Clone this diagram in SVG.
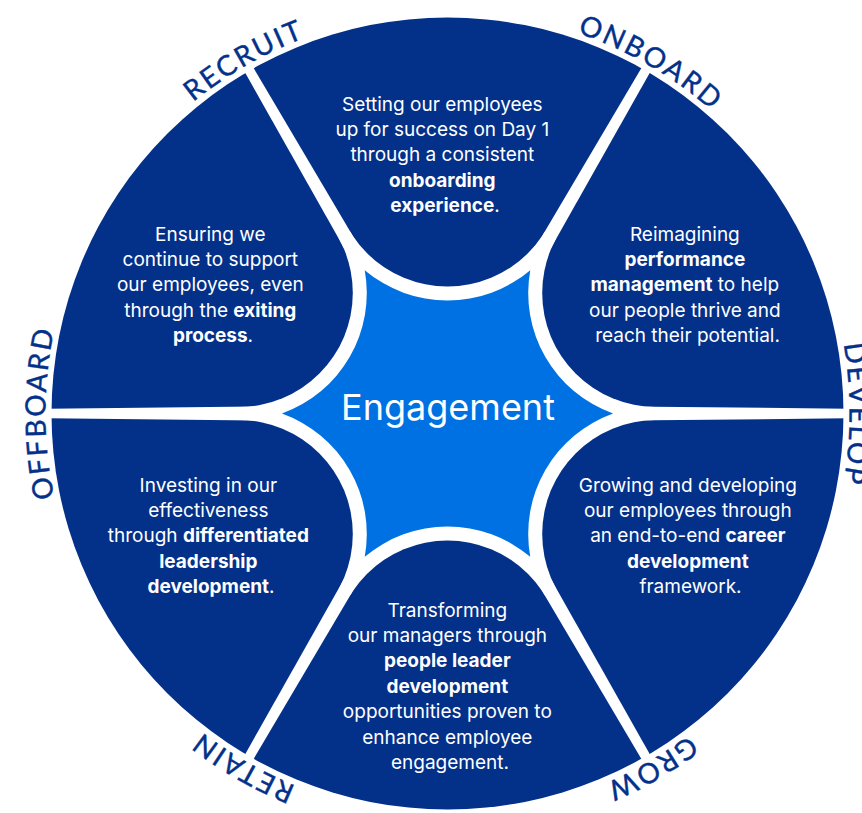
<svg xmlns="http://www.w3.org/2000/svg" xmlns:xlink="http://www.w3.org/1999/xlink" width="862" height="813" viewBox="0 0 862 813">
  <style>
    .navy { fill: #03318A; }
    .body { font-family: Inter, "Liberation Sans", sans-serif; font-size: 19px; fill: #FFFFFF; text-anchor: middle; }
    .b { font-weight: 700; }
    .label { font-family: Lato, "Open Sans", sans-serif; font-size: 28px; fill: #03318A; stroke: #03318A; stroke-width: 0.4px; letter-spacing: 2.3px; }
    .center { font-family: Inter, "Liberation Sans", sans-serif; font-size: 36px; fill: #FFFFFF; text-anchor: middle; }
  </style>
  <defs>
    <polygon id="divider" points="150,-7.3 400,-4.8 400,4.8 150,7.3" fill="#FFFFFF"/>
    <path id="ring" d="M 447.5 815.5 A 402 402 0 0 1 45.5 413.5 A 402 402 0 0 1 447.5 11.5 A 402 402 0 0 1 849.5 413.5 A 402 402 0 0 1 447.5 815.5" fill="none"/>
  </defs>
  <rect width="862" height="813" fill="#FFFFFF"/>

  <g id="wheel">
    <circle class="navy" cx="447.5" cy="413.5" r="396"/>
    <polygon fill="#FFFFFF" points="657.5,413.5 552.5,231.63 342.5,231.63 237.5,413.5 342.5,595.37 552.5,595.37"/>
    <circle class="navy" cx="447.5" cy="172.5" r="114"/>
    <circle class="navy" cx="656.21" cy="293" r="114"/>
    <circle class="navy" cx="656.21" cy="534" r="114"/>
    <circle class="navy" cx="447.5" cy="654.5" r="114"/>
    <circle class="navy" cx="238.79" cy="534" r="114"/>
    <circle class="navy" cx="238.79" cy="293" r="114"/>
  </g>

  <g id="connectors">
    <use xlink:href="#divider" transform="translate(447.5 413.5) rotate(0)"/>
    <use xlink:href="#divider" transform="translate(447.5 413.5) rotate(-60)"/>
    <use xlink:href="#divider" transform="translate(447.5 413.5) rotate(-120)"/>
    <use xlink:href="#divider" transform="translate(447.5 413.5) rotate(180)"/>
    <use xlink:href="#divider" transform="translate(447.5 413.5) rotate(120)"/>
    <use xlink:href="#divider" transform="translate(447.5 413.5) rotate(60)"/>
  </g>

  <g id="engagement">
    <path fill="#0071E3" d="M 613.04 413.5 A 128 128 0 0 1 530.27 270.14 A 128 128 0 0 1 364.73 270.14 A 128 128 0 0 1 281.96 413.5 A 128 128 0 0 1 364.73 556.86 A 128 128 0 0 1 530.27 556.86 A 128 128 0 0 1 613.04 413.5 Z"/>
    <text class="center" x="448" y="419.5">Engagement</text>
  </g>

  <g id="onboard">
    <text class="body">
      <tspan x="445" y="111">Setting our employees</tspan>
      <tspan x="445" y="136.2">up for success on Day 1</tspan>
      <tspan x="445" y="161.4">through a consistent</tspan>
      <tspan x="445" y="186.6" class="b">onboarding</tspan>
      <tspan x="445" y="211.8"><tspan class="b">experience</tspan>.</tspan>
    </text>
    <text class="label"><textPath xlink:href="#ring" startOffset="1473.4" text-anchor="middle">ONBOARD</textPath></text>
  </g>

  <g id="develop">
    <text class="body">
      <tspan x="687.5" y="240.5">Reimagining</tspan>
      <tspan x="687.5" y="265.9" class="b">performance</tspan>
      <tspan x="687.5" y="291.3"><tspan class="b">management</tspan> to help</tspan>
      <tspan x="687.5" y="316.7">our people thrive and</tspan>
      <tspan x="687.5" y="342.1">reach their potential.</tspan>
    </text>
    <text class="label"><textPath xlink:href="#ring" startOffset="1894.4" text-anchor="middle">DEVELOP</textPath></text>
  </g>

  <g id="grow">
    <text class="body">
      <tspan x="690.5" y="491.5">Growing and developing</tspan>
      <tspan x="690.5" y="516.9">our employees through</tspan>
      <tspan x="690.5" y="542.3">an end-to-end <tspan class="b">career</tspan></tspan>
      <tspan x="690.5" y="567.7" class="b">development</tspan>
      <tspan x="690.5" y="593.1">framework.</tspan>
    </text>
    <text class="label"><textPath xlink:href="#ring" startOffset="2315.3" text-anchor="middle">GROW</textPath></text>
  </g>

  <g id="retain">
    <text class="body">
      <tspan x="450" y="616.5">Transforming</tspan>
      <tspan x="450" y="641.9">our managers through</tspan>
      <tspan x="450" y="667.3" class="b">people leader</tspan>
      <tspan x="450" y="692.7" class="b">development</tspan>
      <tspan x="450" y="718.1">opportunities proven to</tspan>
      <tspan x="450" y="743.5">enhance employee</tspan>
      <tspan x="450" y="768.9">engagement.</tspan>
    </text>
    <text class="label"><textPath xlink:href="#ring" startOffset="210.5" text-anchor="middle">RETAIN</textPath></text>
  </g>

  <g id="offboard">
    <text class="body">
      <tspan x="211" y="491.5">Investing in our</tspan>
      <tspan x="211" y="516.9">effectiveness</tspan>
      <tspan x="211" y="542.3">through <tspan class="b">differentiated</tspan></tspan>
      <tspan x="211" y="567.7" class="b">leadership</tspan>
      <tspan x="211" y="593.1"><tspan class="b">development</tspan>.</tspan>
    </text>
    <text class="label"><textPath xlink:href="#ring" startOffset="631.5" text-anchor="middle">OFFBOARD</textPath></text>
  </g>

  <g id="recruit">
    <text class="body">
      <tspan x="213" y="240.5">Ensuring we</tspan>
      <tspan x="213" y="265.9">continue to support</tspan>
      <tspan x="213" y="291.3">our employees, even</tspan>
      <tspan x="213" y="316.7">through the <tspan class="b">exiting</tspan></tspan>
      <tspan x="213" y="342.1"><tspan class="b">process</tspan>.</tspan>
    </text>
    <text class="label"><textPath xlink:href="#ring" startOffset="1052.4" text-anchor="middle">RECRUIT</textPath></text>
  </g>
</svg>
